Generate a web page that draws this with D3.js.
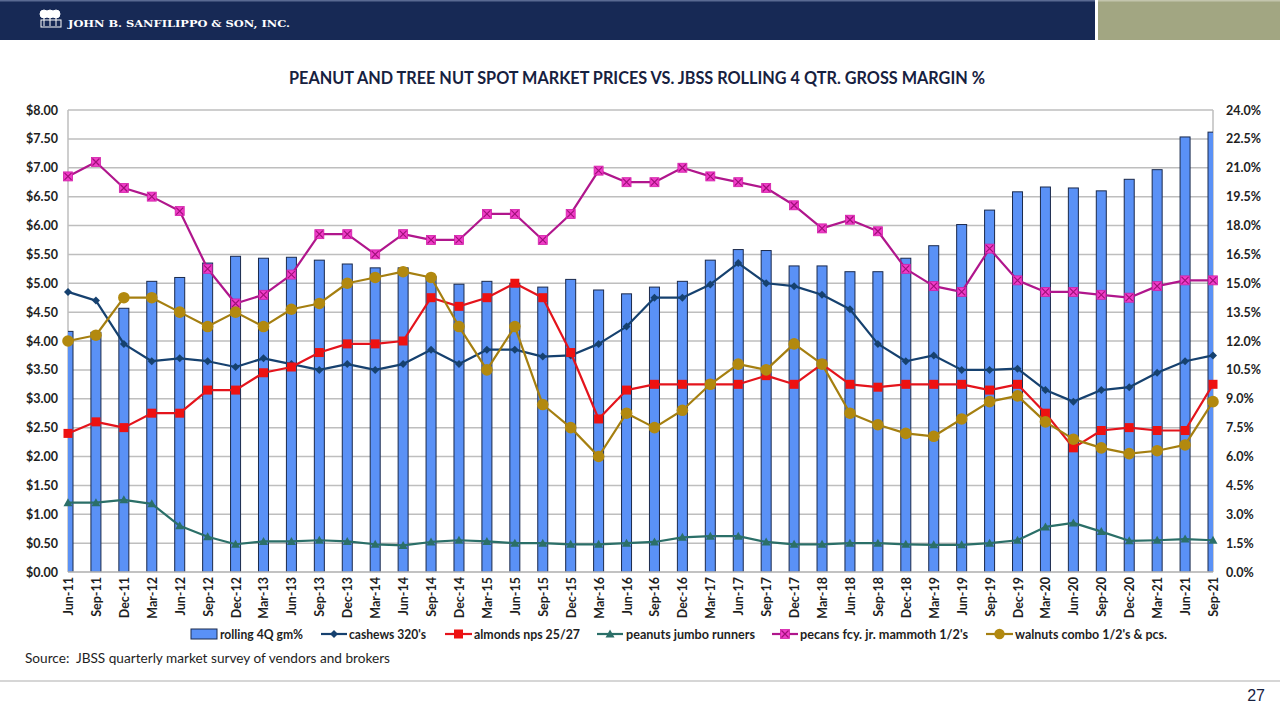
<!DOCTYPE html>
<html><head><meta charset="utf-8">
<script src="https://cdn.jsdelivr.net/npm/d3@7"></script>
<style>html,body{margin:0;padding:0;background:#fff;}svg{display:block;}</style>
</head><body>
<svg id="c" width="1280" height="720"></svg>
<script>
const categories = ["Jun-11","Sep-11","Dec-11","Mar-12","Jun-12","Sep-12","Dec-12","Mar-13","Jun-13","Sep-13","Dec-13","Mar-14","Jun-14","Sep-14","Dec-14","Mar-15","Jun-15","Sep-15","Dec-15","Mar-16","Jun-16","Sep-16","Dec-16","Mar-17","Jun-17","Sep-17","Dec-17","Mar-18","Jun-18","Sep-18","Dec-18","Mar-19","Jun-19","Sep-19","Dec-19","Mar-20","Jun-20","Sep-20","Dec-20","Mar-21","Jun-21","Sep-21"];
const gm = [12.5,12.45,13.7,15.1,15.3,16.05,16.4,16.3,16.35,16.2,16.0,15.8,15.8,15.35,14.95,15.1,15.0,14.8,15.2,14.65,14.45,14.8,15.1,16.2,16.75,16.7,15.9,15.9,15.6,15.6,16.3,16.95,18.05,18.8,19.75,20.0,19.95,19.8,20.4,20.9,22.6,22.85];
const cashews = [4.85,4.70,3.95,3.65,3.70,3.65,3.55,3.70,3.60,3.50,3.60,3.50,3.60,3.85,3.60,3.85,3.85,3.73,3.75,3.95,4.25,4.75,4.75,4.98,5.35,5.00,4.95,4.80,4.55,3.95,3.65,3.75,3.50,3.50,3.52,3.15,2.95,3.15,3.20,3.45,3.65,3.75];
const almonds = [2.40,2.60,2.50,2.75,2.75,3.15,3.15,3.45,3.55,3.80,3.95,3.95,4.00,4.75,4.60,4.75,5.00,4.75,3.80,2.65,3.15,3.25,3.25,3.25,3.25,3.40,3.25,3.60,3.25,3.20,3.25,3.25,3.25,3.15,3.25,2.75,2.15,2.45,2.50,2.45,2.45,3.25];
const peanuts = [1.20,1.20,1.25,1.18,0.80,0.61,0.48,0.53,0.53,0.55,0.53,0.48,0.46,0.52,0.55,0.53,0.50,0.50,0.48,0.48,0.50,0.52,0.60,0.62,0.62,0.52,0.48,0.48,0.50,0.50,0.48,0.47,0.47,0.50,0.55,0.78,0.85,0.70,0.54,0.55,0.57,0.55];
const pecans = [6.85,7.10,6.65,6.50,6.25,5.25,4.65,4.80,5.15,5.85,5.85,5.50,5.85,5.75,5.75,6.20,6.20,5.75,6.20,6.95,6.75,6.75,7.00,6.85,6.75,6.65,6.35,5.95,6.10,5.90,5.25,4.95,4.85,5.60,5.05,4.85,4.85,4.80,4.75,4.95,5.05,5.05];
const walnuts = [4.00,4.10,4.75,4.75,4.50,4.25,4.50,4.25,4.55,4.65,5.00,5.10,5.20,5.10,4.25,3.50,4.25,2.90,2.50,2.00,2.75,2.50,2.80,3.25,3.60,3.50,3.95,3.60,2.75,2.55,2.40,2.35,2.65,2.95,3.05,2.60,2.30,2.15,2.05,2.10,2.20,2.95];
const leftTicks = [0,0.5,1,1.5,2,2.5,3,3.5,4,4.5,5,5.5,6,6.5,7,7.5,8];
const rightTicks = [0,1.5,3,4.5,6,7.5,9,10.5,12,13.5,15,16.5,18,19.5,21,22.5,24];
const seriesNames = ["rolling 4Q gm%","cashews 320's","almonds nps 25/27","peanuts jumbo runners","pecans fcy. jr. mammoth 1/2's","walnuts combo 1/2's & pcs."];
const titleText = "PEANUT AND TREE NUT SPOT MARKET PRICES VS. JBSS ROLLING 4 QTR. GROSS MARGIN %";
const sourceText = "Source:  JBSS quarterly market survey of vendors and brokers";

const svg = d3.select("#c");
const L = 68, R = 1213, T = 110, B = 572;
const x = d3.scalePoint().domain(categories).range([L, R]);
const yL = d3.scaleLinear().domain([0, 8]).range([B, T]);
const yR = d3.scaleLinear().domain([0, 24]).range([B, T]);
const FONT = "Lato, 'Open Sans', sans-serif";

// Header
svg.append("rect").attr("x",0).attr("y",0).attr("width",1095).attr("height",40).attr("fill","#172955");
svg.append("rect").attr("x",0).attr("y",0).attr("width",1095).attr("height",1.5).attr("fill","#5a6a92");
svg.append("rect").attr("x",1098).attr("y",0).attr("width",182).attr("height",40).attr("fill","#a2a682");
svg.append("rect").attr("x",1098).attr("y",0).attr("width",182).attr("height",1.5).attr("fill","#c3c5ad");
// logo (simple trees)
const logo = svg.append("g").attr("fill","none").attr("stroke","#fff").attr("stroke-width",1);
logo.append("rect").attr("x",41).attr("y",20).attr("width",20).attr("height",7);
[44,50,56].forEach(cx=>{
  logo.append("circle").attr("cx",cx).attr("cy",14).attr("r",4).attr("fill","#fff");
  logo.append("line").attr("x1",cx).attr("x2",cx).attr("y1",16).attr("y2",26);
});
svg.append("text").attr("x",68).attr("y",27).attr("fill","#fff")
  .style("font-family","'DejaVu Serif','Liberation Serif',serif").style("font-weight","bold").style("font-size","9.5px")
  .attr("textLength",222).attr("lengthAdjust","spacingAndGlyphs")
  .text("JOHN B. SANFILIPPO & SON, INC.");

// Title
svg.append("text").attr("x",637).attr("y",84).attr("text-anchor","middle").attr("fill","#17213f")
  .style("font-family",FONT).style("font-weight","bold").style("font-size","16.5px")
  .attr("textLength",696).attr("lengthAdjust","spacingAndGlyphs").text(titleText);

// Grid
svg.append("g").selectAll("line").data(leftTicks).join("line")
  .attr("x1",L).attr("x2",R).attr("y1",d=>yL(d)).attr("y2",d=>yL(d))
  .attr("stroke","#bebebe").attr("stroke-width",1.5);
svg.append("line").attr("x1",L).attr("x2",L).attr("y1",T).attr("y2",B).attr("stroke","#bebebe").attr("stroke-width",1.5);
svg.append("line").attr("x1",R).attr("x2",R).attr("y1",T).attr("y2",B).attr("stroke","#bebebe").attr("stroke-width",1.5);

// Clip
svg.append("clipPath").attr("id","plot").append("rect").attr("x",L).attr("y",T-10).attr("width",R-L).attr("height",B-T+10);

// Bars
const bw = 10;
svg.append("g").attr("clip-path","url(#plot)").selectAll("rect").data(gm).join("rect")
  .attr("x",(d,i)=>x(categories[i])-bw/2).attr("width",bw)
  .attr("y",d=>yR(d)).attr("height",d=>B-yR(d))
  .attr("fill","#5a91f6").attr("stroke","#1b2a4c").attr("stroke-width",1);

// Axes
const axL = svg.append("g").attr("transform",`translate(${L},0)`)
  .call(d3.axisLeft(yL).tickValues(leftTicks).tickFormat(d3.format("$.2f")).tickSize(0).tickPadding(10));
const axR = svg.append("g").attr("transform",`translate(${R},0)`)
  .call(d3.axisRight(yR).tickValues(rightTicks).tickFormat(d=>d.toFixed(1)+"%").tickSize(0).tickPadding(13));
const axB = svg.append("g").attr("transform",`translate(0,${B})`)
  .call(d3.axisBottom(x).tickSize(0).tickPadding(0));
[axL,axR,axB].forEach(a=>{a.select(".domain").remove();
  a.selectAll("text").style("font-family",FONT).style("font-weight","bold").style("font-size","12.5px").attr("fill","#1e1e1e");});
axB.selectAll("text").attr("transform","rotate(-90)").attr("text-anchor","end").attr("x",-5).attr("y",0).attr("dy","0.36em");
svg.append("line").attr("x1",L).attr("x2",R).attr("y1",B).attr("y2",B).attr("stroke","#bebebe").attr("stroke-width",1.5);

// Lines
const line = d3.line().x((d,i)=>x(categories[i])).y(d=>yL(d));
const specs = [
  {data:cashews, color:"#16416f", marker:"diamond", fill:"#16416f"},
  {data:almonds, color:"#e4141c", marker:"square", fill:"#ee1111"},
  {data:peanuts, color:"#2b6f68", marker:"triangle", fill:"#2b6f68"},
  {data:pecans, color:"#b0168c", marker:"xsquare", fill:"#f03cc8"},
  {data:walnuts, color:"#a57f10", marker:"circle", fill:"#b2890f"}
];
function drawMarker(g, type, cx, cy, fill, color, scale){
  const s = scale||1;
  if(type==="diamond"){
    g.append("path").attr("d",`M${cx},${cy-4*s}L${cx+4*s},${cy}L${cx},${cy+4*s}L${cx-4*s},${cy}Z`).attr("fill",fill);
  } else if(type==="square"){
    g.append("rect").attr("x",cx-4.5*s).attr("y",cy-4.5*s).attr("width",9*s).attr("height",9*s).attr("fill",fill);
  } else if(type==="triangle"){
    g.append("path").attr("d",`M${cx},${cy-4.5*s}L${cx+4.5*s},${cy+3.5*s}L${cx-4.5*s},${cy+3.5*s}Z`).attr("fill",fill);
  } else if(type==="xsquare"){
    g.append("rect").attr("x",cx-4.5*s).attr("y",cy-4.5*s).attr("width",9*s).attr("height",9*s).attr("fill",fill).attr("stroke","#d21ea8").attr("stroke-width",0.8);
    g.append("path").attr("d",`M${cx-3.5*s},${cy-3.5*s}L${cx+3.5*s},${cy+3.5*s}M${cx+3.5*s},${cy-3.5*s}L${cx-3.5*s},${cy+3.5*s}`).attr("stroke","#a0107a").attr("stroke-width",1.2);
  } else if(type==="circle"){
    g.append("circle").attr("cx",cx).attr("cy",cy).attr("r",5.8*s).attr("fill",fill);
  }
}
specs.forEach(sp=>{
  const g = svg.append("g");
  g.append("path").datum(sp.data).attr("d",line).attr("fill","none").attr("stroke",sp.color).attr("stroke-width",2.2).attr("stroke-linejoin","round");
  sp.data.forEach((d,i)=>drawMarker(g, sp.marker, x(categories[i]), yL(d), sp.fill, sp.color));
});

// Legend
const legY = 634;
const leg = svg.append("g").style("font-family",FONT).style("font-weight","bold").style("font-size","12.5px");
const legItems = [
  {sw:[191,217], tx:220, tw:83},
  {sw:[321,347], tx:349, tw:77},
  {sw:[445,472], tx:474, tw:106},
  {sw:[597,623], tx:626, tw:129},
  {sw:[772,798], tx:800, tw:168},
  {sw:[986,1013], tx:1015, tw:152}
];
legItems.forEach((it,i)=>{
  if(i===0){
    leg.append("rect").attr("x",it.sw[0]).attr("y",legY-5).attr("width",it.sw[1]-it.sw[0]).attr("height",10)
      .attr("fill","#5a91f6").attr("stroke","#1b2a4c").attr("stroke-width",1);
  } else {
    const sp = specs[i-1];
    leg.append("line").attr("x1",it.sw[0]).attr("x2",it.sw[1]).attr("y1",legY).attr("y2",legY).attr("stroke",sp.color).attr("stroke-width",2.2);
    drawMarker(leg, sp.marker, (it.sw[0]+it.sw[1])/2, legY, sp.fill, sp.color, sp.marker==="circle"?0.9:1);
  }
  leg.append("text").attr("x",it.tx).attr("y",legY+4.5).attr("fill","#1e1e1e")
    .attr("textLength",it.tw).attr("lengthAdjust","spacingAndGlyphs").text(seriesNames[i]);
});

// Source
svg.append("text").attr("x",25).attr("y",663).attr("fill","#1e1e1e")
  .style("font-family",FONT).style("font-size","13.5px").style("white-space","pre")
  .attr("textLength",365).attr("lengthAdjust","spacingAndGlyphs").text(sourceText);

// Footer
svg.append("rect").attr("x",0).attr("y",680).attr("width",1280).attr("height",2).attr("fill","#d6d6d6");
svg.append("text").attr("x",1265).attr("y",701).attr("text-anchor","end").attr("fill","#17213f")
  .style("font-family","'Liberation Sans', Arial, sans-serif").style("font-size","16px").text("27");
</script>
</body></html>
